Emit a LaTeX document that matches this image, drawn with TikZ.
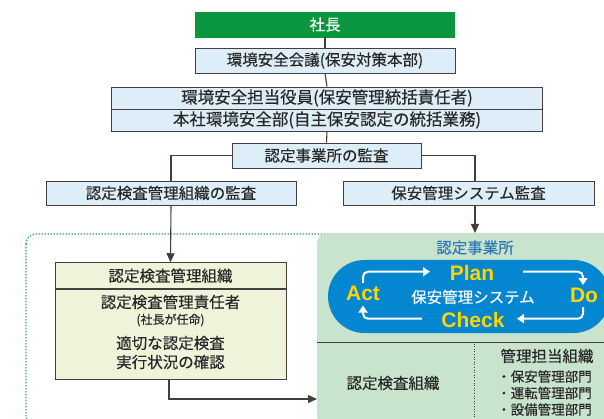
\documentclass[tikz,border=0pt]{standalone}
\usepackage{fontspec}
\setmainfont{Noto Sans CJK JP}[FakeBold=0.35]
\newfontfamily\pdcafont{Liberation Sans}
\usetikzlibrary{arrows.meta}
\definecolor{shgreen}{RGB}{10,150,62}
\definecolor{lblue}{RGB}{221,238,248}
\definecolor{kanrifill}{RGB}{238,243,218}
\definecolor{sitegreen}{RGB}{201,228,204}
\definecolor{pillblue}{RGB}{4,134,208}
\definecolor{pdcayellow}{RGB}{255,212,0}
\definecolor{sitetext}{RGB}{46,120,180}
\definecolor{dotgreen}{RGB}{40,165,95}
\definecolor{linecol}{RGB}{70,62,60}
\definecolor{txt}{RGB}{40,40,40}
\tikzset{
  box/.style={draw=linecol, line width=0.9pt, fill=lblue, text=txt, inner sep=0pt,
    font=\fontsize{15.5}{18}\selectfont},
  conn/.style={draw=linecol, line width=1.1pt},
  arr/.style={conn, -{Triangle[length=9pt,width=8pt]}},
  warr/.style={draw=white, line width=2pt, rounded corners=5pt, -{Triangle[length=7pt,width=9pt]}},
  pdca/.style={text=pdcayellow, font=\pdcafont\bfseries\fontsize{21}{24}\selectfont, inner sep=0pt},
  plain/.style={text=txt, inner sep=0pt, font=\fontsize{15.5}{18}\selectfont, align=center},
}
\begin{document}
\begin{tikzpicture}[x=1pt,y=-1pt]
\useasboundingbox (0,0) rectangle (604,419);
\clip (0,0) rectangle (604,419);
\fill[white] (0,0) rectangle (604,419);

% top chain
\node[box, fill=shgreen, draw=shgreen, text=white, minimum width=259pt, minimum height=25pt] (shacho) at (325,24.5) {社長};
\node[box, minimum width=260pt, minimum height=25pt] (kaigi) at (325,60.5) {環境安全会議(保安対策本部)};
\node[box, minimum width=431pt, minimum height=22pt, font=\fontsize{16.5}{18}\selectfont] (yakuin) at (327,98) {環境安全担当役員(保安管理統括責任者)};
\node[box, minimum width=431pt, minimum height=22pt, font=\fontsize{16.5}{18}\selectfont] (honsha) at (327,120) {本社環境安全部(自主保安認定の統括業務)};
\node[box, minimum width=189pt, minimum height=25pt] (kansa) at (326.5,155.5) {認定事業所の監査};
\node[box, minimum width=250pt, minimum height=24pt] (skansa) at (171,193) {認定検査管理組織の監査};
\node[box, minimum width=251pt, minimum height=24pt] (syskansa) at (468.5,193) {保安管理システム監査};

\draw[conn] (shacho.south) -- (kaigi.north);
\draw[conn] (kaigi.south) -- (yakuin.north);
\draw[conn] (honsha.south) -- (kansa.north);
\draw[conn] (kansa.west) -| (skansa.north);
\draw[conn] (kansa.east) -| ([xshift=6.5pt]syskansa.north);

% dotted enclosure
\draw[dotgreen, line width=1.3pt, dash pattern=on 1.3pt off 1.7pt, rounded corners=10pt] (26,234) rectangle (700,426);

% site area
\fill[sitegreen, rounded corners=10pt] (317,233) rectangle (700,426);
\coordinate (sitetop) at (475,233);
\coordinate (sitein) at (317,399);
\node[text=sitetext, inner sep=0pt, font=\fontsize{15.5}{18}\selectfont] (site) at (475,247.5) {認定事業所};

\fill[pillblue, rounded corners=36.5pt] (328,260) rectangle (610,333);
\node[pdca] (plan) at (472,273) {Plan};
\node[pdca] (act) at (363,293) {Act};
\node[pdca] (do) at (584,295) {Do};
\node[pdca] (check) at (473,319.5) {Check};
\node[text=white, inner sep=0pt, font=\fontsize{15.5}{18}\selectfont] (psys) at (473,297) {保安管理システム};

\draw[warr] (363,283) |- (430,271.7);
\draw[warr] (523,271.7) -| (583,285);
\draw[warr] (583,307) |- (517,318.7);
\draw[warr] (422,318.7) -| (363,305.5);

\draw[linecol, line width=1.2pt] (317,342.7) -- (604,342.7);
\draw[linecol, line width=0.9pt, dash pattern=on 1pt off 1.6pt] (474,343.5) -- (474,419);

\node[plain] (kensa) at (393,383) {認定検査組織};
\node[plain] (tanto) at (547,356) {管理担当組織};
\node[plain, anchor=west, font=\fontsize{13.5}{17}\selectfont, align=left] (bumon) at (497,393) {・保安管理部門\\[-0.5pt]・運転管理部門\\[-0.5pt]・設備管理部門};

% left management box
\node[box, fill=kanrifill, minimum width=231pt, minimum height=26pt] (khead) at (170.5,275.7) {認定検査管理組織};
\node[box, fill=kanrifill, minimum width=231pt, minimum height=90.3pt, anchor=north] (kbody) at (khead.south) {};
\node[plain] (sekinin) at (170.5,302) {認定検査管理責任者};
\node[plain, font=\fontsize{12}{14}\selectfont] (ninmei) at (170.5,320) {(社長が任命)};
\node[plain] (tekisetsu) at (170.5,343) {適切な認定検査};
\node[plain] (kakunin) at (170.5,362) {実行状況の確認};

\draw[arr] (skansa.south) -- (khead.north);
\draw[arr] ([xshift=6.5pt]syskansa.south) -- (sitetop);
\draw[arr] ([xshift=-1.5pt]kbody.south) |- (sitein);
\end{tikzpicture}
\end{document}
